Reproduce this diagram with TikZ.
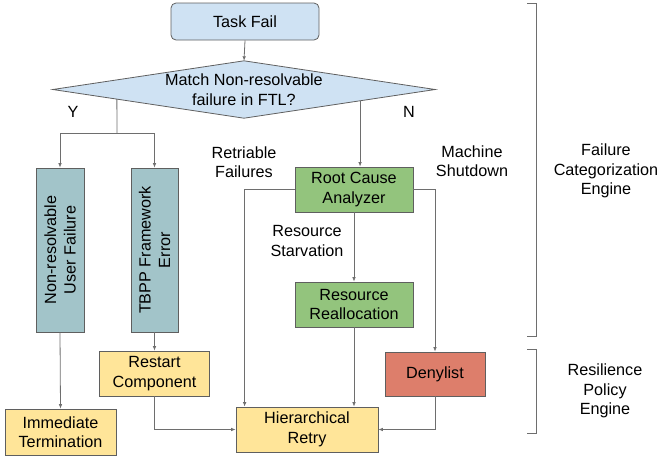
\documentclass[tikz,border=0pt]{standalone}
\usepackage{fontspec}
\setmainfont{Liberation Sans}
\usetikzlibrary{arrows.meta,calc,backgrounds}
\definecolor{lblue}{HTML}{CFE2F3}
\definecolor{lcyan}{HTML}{A2C4C9}
\definecolor{lgreen}{HTML}{93C47D}
\definecolor{lyellow}{HTML}{FFE599}
\definecolor{lred}{HTML}{DD7E6B}
\definecolor{edgegray}{HTML}{6E6E6E}
\definecolor{boxgray}{HTML}{5F5F5F}
\tikzset{
  every node/.style={font=\fontsize{16.2}{19.5}\selectfont, align=center, inner sep=0pt},
  box/.style={draw=boxgray, line width=0.8pt, rectangle},
  arr/.style={draw=edgegray, line width=0.8pt, -{Latex[length=4.5pt,width=3.6pt]}},
  ln/.style={draw=edgegray, line width=0.8pt},
  lbl/.style={text=black},
  brk/.style={draw=edgegray, line width=0.9pt}
}
\begin{document}
\begin{tikzpicture}[x=1pt,y=-1pt]
\useasboundingbox (0,0) rectangle (658,456);

% nodes
\node[box, rounded corners=5pt, fill=lblue, minimum width=148pt, minimum height=37pt] (task) at (245,21.5) {Task Fail};
\node[minimum width=382pt, minimum height=57pt] (dia) at (244,89.5) {Match Non-resolvable\\failure in FTL?};
\begin{scope}[on background layer]
\draw[box, fill=lblue] (dia.west) -- (dia.north) -- (dia.east) -- (dia.south) -- cycle;
\end{scope}

\node[box, fill=lcyan, minimum width=48pt, minimum height=164pt] (nr) at (60,250) {};
\node[rotate=90] (nrt) at (nr.center) {Non-resolvable\\User Failure};
\node[box, fill=lcyan, minimum width=47pt, minimum height=164pt] (tbpp) at (154.5,250) {};
\node[rotate=90] (tbppt) at (tbpp.center) {TBPP Framework\\Error};

\node[box, fill=lgreen, minimum width=118pt, minimum height=45pt] (rca) at (354,189.5) {Root Cause\\Analyzer};
\node[box, fill=lgreen, minimum width=118pt, minimum height=45pt] (rr) at (354,304.5) {Resource\\Reallocation};
\node[box, fill=lyellow, minimum width=110pt, minimum height=45pt] (rc) at (154.5,373.5) {Restart\\Component};
\node[box, fill=lyellow, minimum width=111pt, minimum height=46pt] (it) at (60.5,432) {Immediate\\Termination};
\node[box, fill=lyellow, minimum width=142pt, minimum height=45pt] (hr) at (307,429.5) {Hierarchical\\Retry};
\node[box, fill=lred, minimum width=100pt, minimum height=44pt] (dl) at (435,374) {Denylist};

% labels
\node[lbl] (ylab) at (73,112) {Y};
\node[lbl] (nlab) at (409,112) {N};
\node[lbl] (retr) at (244,162) {Retriable\\Failures};
\node[lbl] (mach) at (472,161) {Machine\\Shutdown};
\node[lbl] (starv) at (307,241) {Resource\\Starvation};
\node[lbl] (fce) at (606,171) {Failure\\Categorization\\Engine};
\node[lbl] (rpe) at (605,391) {Resilience\\Policy\\Engine};

% connectors
\draw[arr] (task.south) -- (dia.north);
\coordinate (ystart) at ($(dia.west)!0.335!(dia.south)$);
\coordinate (ysplit) at (117,133);
\draw[ln] (ystart) -- (ysplit);
\draw[arr] (ysplit) -| (nr.north);
\draw[arr] (ysplit) -| (tbpp.north);
\coordinate (nstart) at ($(dia.east)!0.393!(dia.south)$);
\draw[arr] (nstart) -- (nstart |- rca.north);

\draw[arr] (nr.south) -- (it.north);
\draw[arr] (tbpp.south) -- (rc.north);
\draw[arr] (rc.south) |- (hr.west);
\draw[arr] (rca.west) -| ([xshift=9pt]hr.north west);
\draw[arr] (rca.south) -- (rr.north);
\draw[arr] (rr.south) -- (rr.south |- hr.north);
\draw[arr] (rca.east) -| (dl.north);
\draw[arr] (dl.south) |- (hr.east);

% brackets
\coordinate (b1a) at (527,3);
\coordinate (b1b) at (536,3);
\coordinate (b1c) at (536,336);
\coordinate (b1d) at (527,336);
\draw[brk] (b1a) -- (b1b) -- (b1c) -- (b1d);
\coordinate (b2a) at (527,349);
\coordinate (b2b) at (536,349);
\coordinate (b2c) at (536,433);
\coordinate (b2d) at (527,433);
\draw[brk] (b2a) -- (b2b) -- (b2c) -- (b2d);
\end{tikzpicture}
\end{document}
